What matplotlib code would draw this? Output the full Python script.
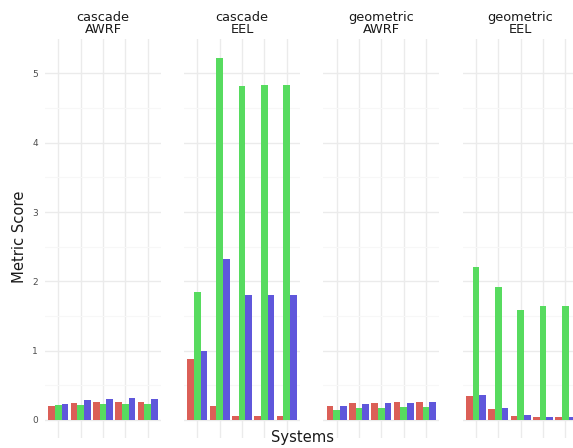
import matplotlib
matplotlib.use("Agg")
import matplotlib.pyplot as plt
import numpy as np

W, H = 573, 448
DPI = 100

facets = ["cascade\nAWRF", "cascade\nEEL", "geometric\nAWRF", "geometric\nEEL"]
systems = ["S1", "S2", "S3", "S4", "S5"]
series_colors = ["#db5f57", "#57db5f", "#5f57db"]

# values per facet: [red series, green series, blue series]
cascade_awrf = [
    [0.20, 0.245, 0.26, 0.26, 0.26],
    [0.21, 0.22, 0.23, 0.23, 0.23],
    [0.23, 0.29, 0.30, 0.32, 0.30],
]
cascade_eel = [
    [0.876, 0.20, 0.053, 0.053, 0.053],
    [1.85, 5.23, 4.82, 4.84, 4.84],
    [1.00, 2.32, 1.81, 1.81, 1.81],
]
geometric_awrf = [
    [0.20, 0.245, 0.25, 0.26, 0.26],
    [0.15, 0.18, 0.18, 0.19, 0.19],
    [0.20, 0.235, 0.25, 0.25, 0.26],
]
geometric_eel = [
    [0.35, 0.16, 0.058, 0.05, 0.05],
    [2.21, 1.92, 1.59, 1.645, 1.645],
    [0.36, 0.18, 0.07, 0.05, 0.05],
]
data = [cascade_awrf, cascade_eel, geometric_awrf, geometric_eel]
yticks = [0, 1, 2, 3, 4, 5]

fig = plt.figure(figsize=(W / DPI, H / DPI), dpi=DPI)
fig.patch.set_facecolor("white")

panel_lefts = [45.0, 184.0, 323.3, 462.6]
panel_w = 116.0
top_px, bot_px = 39.4, 438.1

allmax = max(max(max(s) for s in d) for d in data)
ymin, ymax = -0.05 * allmax, 1.05 * allmax

x = np.arange(len(systems))
bw = 0.3
for i, (d, title) in enumerate(zip(data, facets)):
    ax = fig.add_axes([panel_lefts[i] / W, (H - bot_px) / H, panel_w / W, (bot_px - top_px) / H])
    ax.set_facecolor("white")
    for s_idx, vals in enumerate(d):
        ax.bar(x + (s_idx - 1) * bw, vals, width=bw, color=series_colors[s_idx], zorder=3, linewidth=0)
    ax.set_xlim(-0.6, len(systems) - 0.4)
    ax.set_ylim(ymin, ymax)
    ax.set_xticks(x)
    ax.set_xticklabels([])
    ax.set_yticks(yticks)
    ax.set_yticks(np.arange(0.5, 5.5, 1.0), minor=True)
    ax.grid(True, which="major", color="#EBEBEB", linewidth=1.0, zorder=0)
    ax.grid(True, which="minor", axis="y", color="#F7F7F7", linewidth=0.8, zorder=0)
    ax.tick_params(which="both", length=0)
    if i == 0:
        ax.set_yticklabels([str(t) for t in yticks], fontsize=6.5, color="#4D4D4D")
        ax.tick_params(axis="y", pad=5)
    else:
        ax.set_yticklabels([])
    for sp in ax.spines.values():
        sp.set_visible(False)
    ax.set_title(title, fontsize=9.3, color="#1A1A1A", pad=4.5, linespacing=0.95)

fig.text(302 / W, 1 - 437 / H, "Systems", fontsize=10.6, color="#1A1A1A", ha="center", va="center")
fig.text(20 / W, 1 - 236.5 / H, "Metric Score", fontsize=10.6, color="#1A1A1A", ha="center", va="center", rotation=90)

fig.savefig("out.png", dpi=DPI)
